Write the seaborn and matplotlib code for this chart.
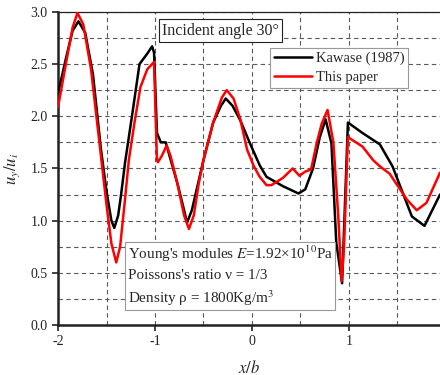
import matplotlib
matplotlib.use("Agg")
import matplotlib.pyplot as plt
import numpy as np
import pandas as pd
import seaborn as sns

# Kawase (1987)
kawase_x = [-2.0, -1.92, -1.85, -1.79, -1.72, -1.64, -1.56, -1.50, -1.45, -1.42,
            -1.38, -1.35, -1.31, -1.23, -1.16, -1.08, -1.03, -1.01, -0.98, -0.94,
            -0.89, -0.85, -0.77, -0.70, -0.67, -0.62, -0.55, -0.50, -0.40, -0.32,
            -0.27, -0.20, -0.12, -0.02, 0.08, 0.15, 0.32, 0.48, 0.55, 0.63,
            0.70, 0.76, 0.82, 0.87, 0.93, 0.99, 1.14, 1.32, 1.45, 1.55,
            1.65, 1.78, 1.94]
kawase_y = [2.22, 2.55, 2.82, 2.91, 2.80, 2.40, 1.70, 1.28, 1.00, 0.93,
            1.05, 1.25, 1.55, 2.05, 2.50, 2.60, 2.67, 2.61, 1.84, 1.75,
            1.75, 1.62, 1.36, 1.10, 0.98, 1.10, 1.38, 1.58, 1.94, 2.10,
            2.17, 2.10, 1.96, 1.74, 1.53, 1.42, 1.33, 1.26, 1.30, 1.50,
            1.80, 1.97, 1.74, 0.79, 0.40, 1.94, 1.84, 1.73, 1.52, 1.28,
            1.04, 0.95, 1.25]

# This paper
paper_x = [-2.0, -1.92, -1.85, -1.80, -1.74, -1.66, -1.58, -1.50, -1.45, -1.40,
           -1.36, -1.31, -1.27, -1.21, -1.15, -1.08, -1.01, -0.98, -0.97, -0.93,
           -0.88, -0.84, -0.77, -0.70, -0.65, -0.60, -0.55, -0.50, -0.40, -0.31,
           -0.26, -0.19, -0.12, -0.05, 0.02, 0.08, 0.15, 0.20, 0.32, 0.42,
           0.49, 0.55, 0.61, 0.67, 0.72, 0.78, 0.84, 0.89, 0.925, 0.95,
           0.99, 1.14, 1.25, 1.32, 1.42, 1.60, 1.70, 1.80, 1.94]
paper_y = [2.09, 2.50, 2.85, 2.99, 2.88, 2.45, 1.80, 1.15, 0.78, 0.60,
           0.75, 1.20, 1.58, 1.95, 2.28, 2.45, 2.52, 1.58, 1.56, 1.62,
           1.72, 1.62, 1.36, 1.05, 0.92, 1.05, 1.35, 1.58, 1.94, 2.18,
           2.25, 2.17, 1.97, 1.68, 1.52, 1.42, 1.34, 1.34, 1.41, 1.50,
           1.43, 1.47, 1.49, 1.75, 1.93, 2.06, 1.75, 1.05, 0.42, 0.75,
           1.80, 1.71, 1.58, 1.52, 1.45, 1.20, 1.10, 1.17, 1.46]

series_names = ["Kawase (1987)", "This paper"]

df = pd.concat([
    pd.DataFrame({"x": kawase_x, "y": kawase_y, "series": series_names[0]}),
    pd.DataFrame({"x": paper_x, "y": paper_y, "series": series_names[1]}),
], ignore_index=True)

sns.set_theme(style="ticks")
plt.rcParams["font.family"] = ["Liberation Serif", "DejaVu Serif"]
plt.rcParams["mathtext.fontset"] = "stix"

fig = plt.figure(figsize=(4.4, 3.75), dpi=100)
ax = fig.add_axes([0.132, 0.1333, 0.868, 0.835])

sns.lineplot(data=df, x="x", y="y", hue="series", sort=False, estimator=None,
             palette={series_names[0]: "black", series_names[1]: "#ff0000"},
             linewidth=1.8, ax=ax, zorder=3)

ax.set_xlim(-2, 1.94)
ax.set_ylim(0, 3.0)
ax.set_xticks([-2, -1, 0, 1])
ax.set_xticklabels(["-2", "-1", "0", "1"])
ax.set_yticks(np.arange(0, 3.01, 0.5))
ax.set_yticklabels(["%.1f" % v for v in np.arange(0, 3.01, 0.5)])
ax.set_xticks(np.arange(-1.5, 1.94, 0.5), minor=True)
ax.set_yticks(np.arange(0.25, 3.0, 0.5), minor=True)
ax.tick_params(which="major", direction="out", length=4, width=1.2,
               labelsize=10, colors="#222222")
ax.tick_params(which="minor", length=0)
ax.grid(which="both", color="0.35", linestyle=(0, (4, 3)), linewidth=0.8)

for s in ["left", "bottom"]:
    ax.spines[s].set_linewidth(1.8)
    ax.spines[s].set_color("#222222")
ax.spines["top"].set_linewidth(0.9)
ax.spines["top"].set_color("#222222")
ax.spines["right"].set_visible(False)

ax.set_xlabel(r"$x/b$", fontsize=12, labelpad=8)
ax.set_ylabel(r"$u_y/u_i$", fontsize=12, labelpad=6)

leg = ax.legend(loc="upper left", bbox_to_anchor=(0.555, 0.885), fontsize=10.5,
                frameon=True, fancybox=False, handlelength=2.6, handletextpad=0.3,
                borderpad=0.25, labelspacing=0.4, borderaxespad=0)
leg.get_frame().set_edgecolor("0.6")
leg.get_frame().set_linewidth(0.8)
leg.get_frame().set_alpha(1)

ax.text(-0.93, 2.82, "Incident angle 30°", fontsize=11.5, ha="left", va="center",
        transform=ax.transData, zorder=5,
        bbox=dict(boxstyle="square,pad=0.2", fc="white", ec="#222222", lw=0.8))

ax.text(0.182, 0.055,
        "Young's modules $E$=1.92×10$^{10}$Pa\n"
        "Poissons's ratio ν = 1/3\n"
        "Density ρ = 1800Kg/m$^3$",
        fontsize=10.9, ha="left", va="bottom", transform=ax.transAxes,
        linespacing=1.45, zorder=5,
        bbox=dict(boxstyle="square,pad=0.15", fc="white", ec="0.6", lw=0.8))

fig.savefig("out.png", dpi=100)
